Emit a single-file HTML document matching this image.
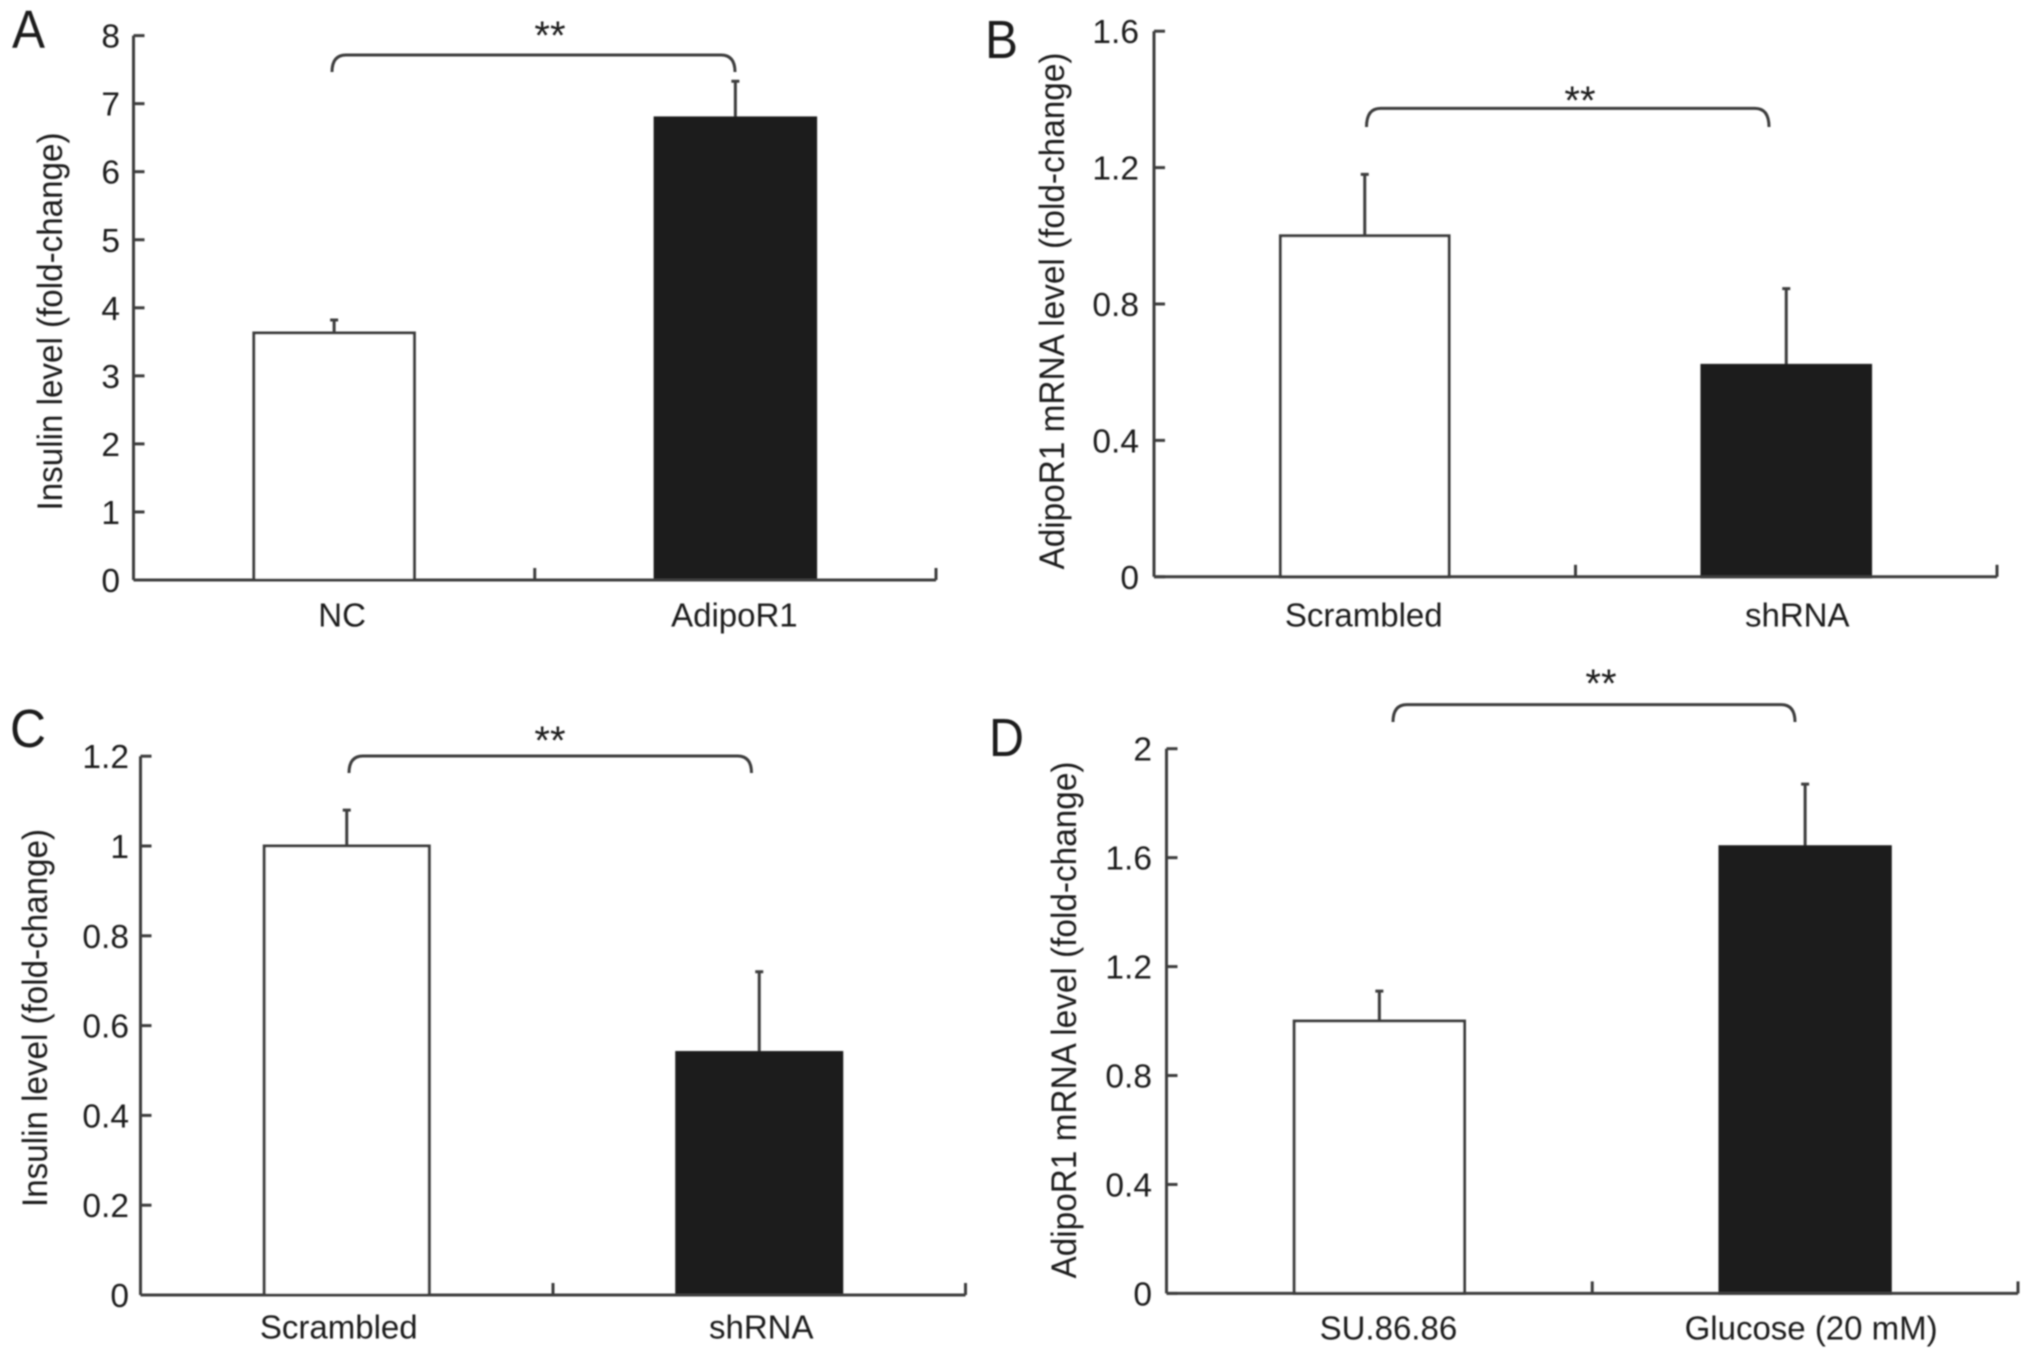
<!DOCTYPE html>
<html lang="en">
<head>
<meta charset="utf-8">
<title>Insulin and AdipoR1 fold-change bar charts</title>
<style>
  html, body { margin: 0; padding: 0; background: #fff; }
  svg { display: block; }
  text { font-family: "Liberation Sans", Arial, sans-serif; fill: #1f1f1f; }
</style>
</head>
<body>
<svg id="figure" xmlns="http://www.w3.org/2000/svg" width="2032" height="1359" viewBox="0 0 2032 1359">
  <defs>
    <filter id="soft" x="-2%" y="-2%" width="104%" height="104%"><feGaussianBlur stdDeviation="0.7"/></filter>
  </defs>
  <rect width="2032" height="1359" fill="#fff"/>
  <g id="root" filter="url(#soft)"></g>
</svg>
<script>
const panelACategories = ['NC', 'AdipoR1'];
const panelAValues = [3.63, 6.79];
const panelAErrors = [0.19, 0.54];
const panelATicks = ['0', '1', '2', '3', '4', '5', '6', '7', '8'];

const panelBCategories = ['Scrambled', 'shRNA'];
const panelBValues = [1.0, 0.62];
const panelBErrors = [0.18, 0.225];
const panelBTicks = ['0', '0.4', '0.8', '1.2', '1.6'];

const panelCCategories = ['Scrambled', 'shRNA'];
const panelCValues = [1.0, 0.54];
const panelCErrors = [0.08, 0.18];
const panelCTicks = ['0', '0.2', '0.4', '0.6', '0.8', '1', '1.2'];

const panelDCategories = ['SU.86.86', 'Glucose (20 mM)'];
const panelDValues = [1.0, 1.64];
const panelDErrors = [0.11, 0.23];
const panelDTicks = ['0', '0.4', '0.8', '1.2', '1.6', '2'];

const NS = 'http://www.w3.org/2000/svg';
const LINE = '#3c3c3c';
const BAR_DARK = '#1a1a1a';
const SW = 3;
const root = document.getElementById('root');

function make(parent, tag, attrs, content) {
  const el = document.createElementNS(NS, tag);
  for (const k in attrs) el.setAttribute(k, attrs[k]);
  if (content !== undefined) el.textContent = content;
  parent.appendChild(el);
  return el;
}

function drawPanel(cfg) {
  const tickNums = cfg.ticks.map(Number);
  const maxTick = Math.max.apply(null, tickNums);
  const y = v => cfg.y0 - (v / maxTick) * (cfg.y0 - cfg.yTop);
  const band = (cfg.xRight - cfg.xLeft) / cfg.categories.length;
  const xc = i => cfg.xLeft + band * (i + 0.5);
  const barW = band * 0.4;

  const g = make(root, 'g', {});
  
  

  const letter = make(g, 'text', {
    x: cfg.letterX, y: cfg.letterY, 'font-size': 54,
    textLength: cfg.letterLen, lengthAdjust: 'spacingAndGlyphs'
  }, cfg.id.toUpperCase());
  
  

  const title = make(g, 'text', {
    transform: 'translate(' + cfg.titleX + ',' + cfg.titleY + ') rotate(-90)',
    'text-anchor': 'middle', 'font-size': 35,
    textLength: cfg.titleLen, lengthAdjust: 'spacingAndGlyphs'
  }, cfg.title);
  
  

  // bars and error bars
  cfg.values.forEach((v, i) => {
    const top = y(v);
    const errTop = y(v + cfg.errors[i]);
    const cx = xc(i);
    const err = make(g, 'path', {
      d: 'M' + cx + ' ' + top + 'V' + errTop + 'M' + (cx - 4) + ' ' + errTop + 'H' + (cx + 4),
      stroke: LINE, 'stroke-width': SW, fill: 'none'
    });
    
    
    const bar = make(g, 'rect', {
      x: cx - barW / 2, y: top, width: barW, height: cfg.y0 - top,
      fill: i === 0 ? '#fff' : BAR_DARK,
      stroke: i === 0 ? LINE : BAR_DARK, 'stroke-width': SW
    });
    
    
  });

  // axes
  const yAxis = make(g, 'line', { x1: cfg.xLeft, x2: cfg.xLeft, y1: cfg.yTop, y2: cfg.y0, stroke: LINE, 'stroke-width': SW });
  
  
  const xAxis = make(g, 'line', { x1: cfg.xLeft, x2: cfg.xRight, y1: cfg.y0, y2: cfg.y0, stroke: LINE, 'stroke-width': SW });
  
  

  cfg.ticks.forEach(t => {
    const ty = y(Number(t));
    const tick = make(g, 'line', { x1: cfg.xLeft, x2: cfg.xLeft + 11, y1: ty, y2: ty, stroke: LINE, 'stroke-width': SW });
    
    
    const lab = make(g, 'text', { x: cfg.tickRight, y: ty + 12, 'text-anchor': 'end', 'font-size': 33.5 }, t);
    
    
  });

  for (let i = 1; i <= cfg.categories.length; i++) {
    const tx = cfg.xLeft + band * i;
    const tick = make(g, 'line', { x1: tx, x2: tx, y1: cfg.y0 - 12, y2: cfg.y0, stroke: LINE, 'stroke-width': SW });
    
    
  }

  cfg.categories.forEach((c, i) => {
    const lab = make(g, 'text', { x: xc(i) + cfg.labelShift[i], y: cfg.labelY, 'text-anchor': 'middle', 'font-size': 33 }, c);
    
    
  });

  // significance bracket
  const b = cfg.bracket;
  const bracket = make(g, 'path', {
    d: 'M' + b.x1 + ' ' + b.bottom + 'Q' + b.x1 + ' ' + b.top + ' ' + (b.x1 + 14) + ' ' + b.top +
       'H' + (b.x2 - 14) + 'Q' + b.x2 + ' ' + b.top + ' ' + b.x2 + ' ' + b.bottom,
    stroke: LINE, 'stroke-width': SW, fill: 'none'
  });
  
  
  const stars = make(g, 'text', { x: b.starX, y: b.starY, 'text-anchor': 'middle', 'font-size': 40 }, '**');
  
  
}

drawPanel({
  id: 'a', categories: panelACategories, values: panelAValues, errors: panelAErrors, ticks: panelATicks,
  xLeft: 133.5, xRight: 936, y0: 580, yTop: 35.6, tickRight: 120,
  title: 'Insulin level (fold-change)', titleX: 62, titleY: 321.5, titleLen: 378,
  labelY: 626.5, labelShift: [8, -1], letterX: 12, letterY: 48, letterLen: 33,
  bracket: { x1: 332, x2: 735, top: 55, bottom: 72, starX: 550, starY: 49 }
});
drawPanel({
  id: 'b', categories: panelBCategories, values: panelBValues, errors: panelBErrors, ticks: panelBTicks,
  xLeft: 1154, xRight: 1997, y0: 576.8, yTop: 31.2, tickRight: 1139,
  title: 'AdipoR1 mRNA level (fold-change)', titleX: 1064, titleY: 311, titleLen: 517,
  labelY: 626.5, labelShift: [-1, 11], letterX: 985, letterY: 58, letterLen: 33,
  bracket: { x1: 1366.5, x2: 1769, top: 108.4, bottom: 127, starX: 1580, starY: 114 }
});
drawPanel({
  id: 'c', categories: panelCCategories, values: panelCValues, errors: panelCErrors, ticks: panelCTicks,
  xLeft: 140.5, xRight: 965.5, y0: 1295, yTop: 756.2, tickRight: 129,
  title: 'Insulin level (fold-change)', titleX: 47, titleY: 1018, titleLen: 378,
  labelY: 1338.5, labelShift: [-8, 2], letterX: 10, letterY: 747, letterLen: 36,
  bracket: { x1: 349, x2: 751.5, top: 756, bottom: 773, starX: 550, starY: 754 }
});
drawPanel({
  id: 'd', categories: panelDCategories, values: panelDValues, errors: panelDErrors, ticks: panelDTicks,
  xLeft: 1166.5, xRight: 2018, y0: 1293.4, yTop: 748.7, tickRight: 1152,
  title: 'AdipoR1 mRNA level (fold-change)', titleX: 1076, titleY: 1020, titleLen: 517,
  labelY: 1339.5, labelShift: [9, 6], letterX: 989, letterY: 756, letterLen: 35,
  bracket: { x1: 1393, x2: 1795, top: 704.6, bottom: 722, starX: 1601, starY: 697 }
});
</script>
</body>
</html>
